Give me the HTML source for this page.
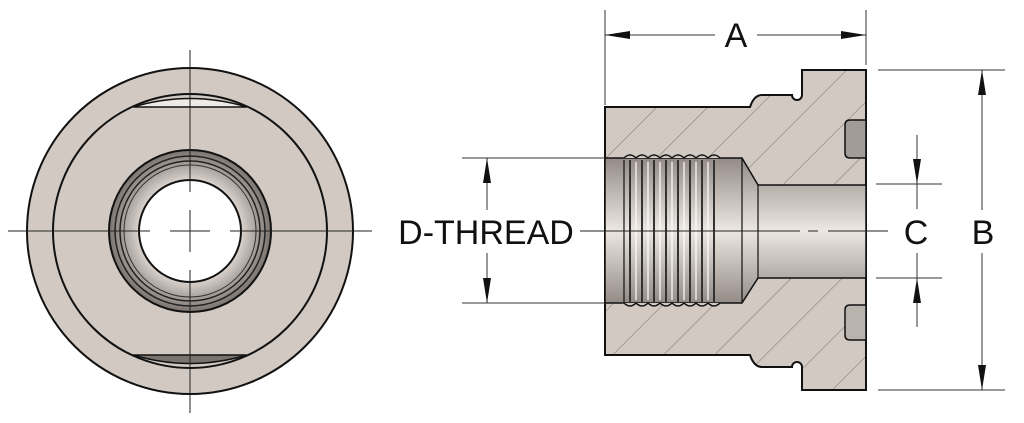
<!DOCTYPE html>
<html><head><style>html,body{margin:0;padding:0;background:#fff;width:1024px;height:423px;overflow:hidden}</style></head>
<body>
<svg width="1024" height="423" viewBox="0 0 1024 423" xmlns="http://www.w3.org/2000/svg" font-family="Liberation Sans, sans-serif">
<defs>
<pattern id="h" patternUnits="userSpaceOnUse" width="36" height="36" patternTransform="rotate(-45)">
<rect width="36" height="36" fill="#d2c9c2"/>
<line x1="0" y1="0" x2="36" y2="0" stroke="#7a726d" stroke-width="1"/>
</pattern>
<linearGradient id="bore" x1="0" y1="0" x2="0" y2="1">
<stop offset="0" stop-color="#948b86"/><stop offset="0.5" stop-color="#ece7e2"/><stop offset="1" stop-color="#948b86"/>
</linearGradient>
<radialGradient id="ring" cx="0.5" cy="0.5" r="0.5">
<stop offset="0.6" stop-color="#e2dbd5"/><stop offset="1" stop-color="#7a726d"/>
</radialGradient>
</defs>
<!-- left view -->
<circle cx="190" cy="231" r="163" fill="#d2c9c2" stroke="#111" stroke-width="2"/>
<circle cx="190" cy="231" r="137" fill="none" stroke="#111" stroke-width="2"/>
<path d="M133 107 Q190 90 247 107 Z" fill="#eeeae6" stroke="#111" stroke-width="1.5"/>
<path d="M133 355 Q190 372 247 355 Z" fill="#7a726d" stroke="#111" stroke-width="1.5"/>
<circle cx="190" cy="231" r="81" fill="url(#ring)" stroke="#111" stroke-width="2"/>
<circle cx="190" cy="231" r="75" fill="none" stroke="#222" stroke-width="1.5"/>
<circle cx="190" cy="231" r="70" fill="none" stroke="#222" stroke-width="1.5"/>
<circle cx="190" cy="231" r="66" fill="none" stroke="#333" stroke-width="1"/>
<circle cx="190" cy="231" r="51" fill="#fff" stroke="#111" stroke-width="2"/>
<g stroke="#222" stroke-width="1">
<line x1="190" y1="50" x2="190" y2="192"/><line x1="190" y1="210" x2="190" y2="252"/><line x1="190" y1="270" x2="190" y2="413"/>
<line x1="8" y1="231" x2="150" y2="231"/><line x1="170" y1="231" x2="210" y2="231"/><line x1="230" y1="231" x2="372" y2="231"/>
</g>
<!-- section body -->
<path d="M605 107 H750 Q754 95 762 95 H792 A5 5 0 0 0 802 95 V70 H866 V390 H802 V367 A5 5 0 0 0 792 367 H762 Q754 367 750 355 H605 Z" fill="url(#h)" stroke="#111" stroke-width="2"/>
<!-- bore -->
<path d="M605 158 H742 L758 185 H866 V278 H758 L742 303 H605 Z" fill="url(#bore)" stroke="#111" stroke-width="1.5"/>
<line x1="742" y1="158" x2="742" y2="303" stroke="#111" stroke-width="1.2"/>
<line x1="758" y1="185" x2="758" y2="278" stroke="#111" stroke-width="1.2"/>
<line x1="624" y1="160" x2="624" y2="302" stroke="#111" stroke-width="1.2"/>
<g stroke="#333" stroke-width="2" fill="none">
<path d="M630 160 V302"/><path d="M642 160 V302"/><path d="M654 160 V302"/><path d="M666 160 V302"/><path d="M678 160 V302"/><path d="M690 160 V302"/><path d="M702 160 V302"/><path d="M714 160 V302"/>
</g>
<g stroke="#fff" stroke-width="2" opacity="0.6">
<path d="M636 162 V300"/><path d="M648 162 V300"/><path d="M660 162 V300"/><path d="M672 162 V300"/><path d="M684 162 V300"/><path d="M696 162 V300"/><path d="M708 162 V300"/>
</g>
<path d="M624 158 Q630 152 636 158 Q642 152 648 158 Q654 152 660 158 Q666 152 672 158 Q678 152 684 158 Q690 152 696 158 Q702 152 708 158 Q714 152 720 158" fill="#d2c9c2" stroke="#111" stroke-width="1.5"/>
<path d="M624 303 Q630 309 636 303 Q642 309 648 303 Q654 309 660 303 Q666 309 672 303 Q678 309 684 303 Q690 309 696 303 Q702 309 708 303 Q714 309 720 303" fill="#d2c9c2" stroke="#111" stroke-width="1.5"/>
<!-- slots -->
<path d="M866 120 H850 Q845 120 845 125 V153 Q845 158 850 158 H866 Z" fill="#a39b96" stroke="#111" stroke-width="1.5"/>
<path d="M866 305 H850 Q845 305 845 310 V335 Q845 340 850 340 H866 Z" fill="#bab2ad" stroke="#111" stroke-width="1.5"/>
<!-- centerline -->
<g stroke="#222" stroke-width="1">
<line x1="580" y1="231" x2="800" y2="231"/><line x1="808" y1="231" x2="818" y2="231"/><line x1="828" y1="231" x2="888" y2="231"/>
</g>
<!-- dimensions -->
<g stroke="#333" stroke-width="1" fill="none">
<line x1="605" y1="10" x2="605" y2="105"/><line x1="866" y1="10" x2="866" y2="65"/>
<line x1="605" y1="35" x2="715" y2="35"/><line x1="757" y1="35" x2="866" y2="35"/>
<line x1="878" y1="70" x2="1005" y2="70"/><line x1="878" y1="390" x2="1005" y2="390"/>
<line x1="982" y1="70" x2="982" y2="210"/><line x1="982" y1="253" x2="982" y2="390"/>
<line x1="876" y1="184" x2="942" y2="184"/><line x1="876" y1="278" x2="942" y2="278"/>
<line x1="917" y1="135" x2="917" y2="209"/><line x1="917" y1="253" x2="917" y2="327"/>
<line x1="462" y1="158" x2="605" y2="158"/><line x1="462" y1="303" x2="605" y2="303"/>
<line x1="487" y1="158" x2="487" y2="210"/><line x1="487" y1="253" x2="487" y2="303"/>
</g>
<g fill="#111">
<polygon points="605,35 630,31 630,39"/><polygon points="866,35 841,31 841,39"/>
<polygon points="982,70 978,95 986,95"/><polygon points="982,390 978,365 986,365"/>
<polygon points="917,184 913,159 921,159"/><polygon points="917,278 913,303 921,303"/>
<polygon points="487,158 483,183 491,183"/><polygon points="487,303 483,278 491,278"/>
</g>
<g font-size="34" fill="#111" text-anchor="middle">
<text x="736" y="47">A</text>
<text x="916" y="244">C</text>
<text x="983" y="244">B</text>
<text x="486" y="244">D-THREAD</text>
</g>
</svg>
</body></html>
